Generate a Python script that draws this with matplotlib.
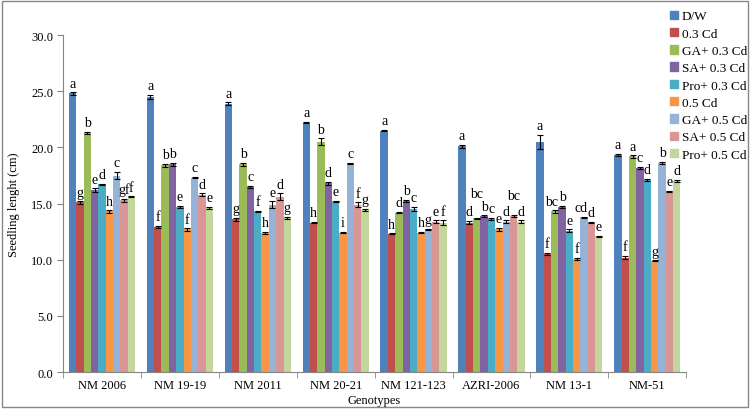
import matplotlib.pyplot as plt
import matplotlib.patches as mpatches
import numpy as np

plt.rcParams['font.family'] = ['Liberation Serif', 'DejaVu Serif']

genotypes = ['NM 2006', 'NM 19-19', 'NM 2011', 'NM 20-21', 'NM 121-123',
             'AZRI-2006', 'NM 13-1', 'NM-51']
treatments = ['D/W', '0.3 Cd', 'GA+ 0.3 Cd', 'SA+ 0.3 Cd', 'Pro+ 0.3 Cd',
              '0.5 Cd', 'GA+ 0.5 Cd', 'SA+ 0.5 Cd', 'Pro+ 0.5 Cd']
colors = ['#4F81BD', '#C0504D', '#9BBB59', '#8064A2', '#4BACC6',
          '#F79646', '#95B3D7', '#D99694', '#C3D69B']

# seedling length per treatment, one value per genotype
dw      = [24.8, 24.5, 23.9, 22.2, 21.5, 20.1, 20.5, 19.3]
cd03    = [15.1, 12.9, 13.6, 13.3, 12.3, 13.3, 10.5, 10.2]
ga03    = [21.3, 18.4, 18.5, 20.5, 14.2, 13.7, 14.3, 19.2]
sa03    = [16.2, 18.5, 16.5, 16.8, 15.2, 13.9, 14.7, 18.2]
pro03   = [16.7, 14.7, 14.3, 15.2, 14.5, 13.6, 12.6, 17.1]
cd05    = [14.3, 12.7, 12.4, 12.4, 12.4, 12.7, 10.1, 9.9]
ga05    = [17.5, 17.3, 14.9, 18.6, 12.7, 13.4, 13.8, 18.6]
sa05    = [15.3, 15.8, 15.6, 14.9, 13.4, 13.9, 13.3, 16.1]
pro05   = [15.6, 14.6, 13.7, 14.4, 13.3, 13.4, 12.1, 17.0]
values = [dw, cd03, ga03, sa03, pro03, cd05, ga05, sa05, pro05]

err_dw    = [0.10, 0.15, 0.10, 0.05, 0.05, 0.15, 0.60, 0.10]
err_cd03  = [0.10, 0.10, 0.15, 0.05, 0.05, 0.15, 0.10, 0.15]
err_ga03  = [0.10, 0.10, 0.15, 0.30, 0.05, 0.05, 0.10, 0.10]
err_sa03  = [0.15, 0.15, 0.10, 0.15, 0.10, 0.05, 0.10, 0.10]
err_pro03 = [0.05, 0.10, 0.05, 0.05, 0.20, 0.10, 0.10, 0.10]
err_cd05  = [0.10, 0.10, 0.10, 0.05, 0.05, 0.15, 0.10, 0.05]
err_ga05  = [0.30, 0.05, 0.30, 0.05, 0.05, 0.10, 0.05, 0.10]
err_sa05  = [0.15, 0.10, 0.30, 0.20, 0.10, 0.10, 0.05, 0.05]
err_pro05 = [0.05, 0.10, 0.10, 0.10, 0.20, 0.10, 0.05, 0.10]
errors = [err_dw, err_cd03, err_ga03, err_sa03, err_pro03,
          err_cd05, err_ga05, err_sa05, err_pro05]

# significance letters, one list per genotype (in treatment order)
letters = [
    ['a', 'g', 'b', 'e', 'd', 'h', 'c', 'gf', 'f'],
    ['a', 'f', 'b', 'b', 'e', 'f', 'c', 'd', 'e'],
    ['a', 'g', 'b', 'c', 'f', 'h', 'e', 'd', 'g'],
    ['a', 'h', 'b', 'd', 'e', 'i', 'c', 'f', 'g'],
    ['a', 'h', 'd', 'b', 'c', 'h', 'g', 'e', 'f'],
    ['a', 'd', 'bc', 'b', 'c', 'e', 'd', 'bc', 'd'],
    ['a', 'f', 'bc', 'b', 'e', 'f', 'cd', 'd', 'e'],
    ['a', 'f', 'a', 'c', 'd', 'g', 'b', 'e', 'd'],
]
# labels moved in the original to avoid crowding: (genotype, treatment) -> (dx, dy) points
nudged = {(5, 2): (0, 11), (5, 7): (0, 7), (6, 2): (-2, 0), (6, 6): (-2, 0)}

fig = plt.figure(figsize=(7.5, 4.1), dpi=100)
ax = fig.add_axes([0.084, 0.090, 0.831, 0.822])

x = np.arange(len(genotypes))
w = 0.0944
for j, (vals, errs) in enumerate(zip(values, errors)):
    pos = x + (j - 4) * w
    ax.bar(pos, vals, w, color=colors[j], label=treatments[j], zorder=2)
    ax.errorbar(pos, vals, yerr=errs, fmt='none', ecolor='black',
                elinewidth=0.8, capsize=2, capthick=0.8, zorder=3)
    for i in range(len(genotypes)):
        dx, dy = nudged.get((i, j), (0, 0))
        ax.annotate(letters[i][j], (pos[i], vals[i] + errs[i]),
                    xytext=(dx, 2 + dy), textcoords='offset points',
                    ha='center', va='bottom', fontsize=10)

ax.set_xlim(-0.5, len(genotypes) - 0.5)
ax.set_ylim(0, 30)
ax.set_yticks(np.arange(0, 30.1, 5))
ax.set_yticklabels([f'{v:.1f}' for v in np.arange(0, 30.1, 5)], fontsize=9)
ax.set_xticks(x)
ax.set_xticklabels(genotypes, fontsize=9)
ax.set_xticks(np.arange(-0.5, len(genotypes)), minor=True)
ax.tick_params(axis='x', which='major', length=0, pad=5)
ax.tick_params(axis='x', which='minor', length=4, color='#868686')
ax.tick_params(axis='y', length=4, color='#868686', pad=3)

for s in ['top', 'right']:
    ax.spines[s].set_visible(False)
for s in ['left', 'bottom']:
    ax.spines[s].set_color('#868686')
    ax.spines[s].set_linewidth(0.8)

ax.set_ylabel('Seedling lenght (cm)', fontsize=9, labelpad=8)
ax.set_xlabel('Genotypes', fontsize=9, labelpad=2)

handles = [mpatches.Patch(color=c, label=t) for c, t in zip(colors, treatments)]
fig.legend(handles=handles, loc='upper left', bbox_to_anchor=(0.886, 0.985),
           frameon=False, fontsize=9.5, handlelength=0.6, handleheight=0.6,
           handletextpad=0.3, labelspacing=0.4, borderaxespad=0)

fig.patches.append(mpatches.Rectangle((0.002, 0.004), 0.995, 0.992,
                                      transform=fig.transFigure, fill=False,
                                      edgecolor='#868686', linewidth=1))

fig.savefig('out.png', dpi=100)
